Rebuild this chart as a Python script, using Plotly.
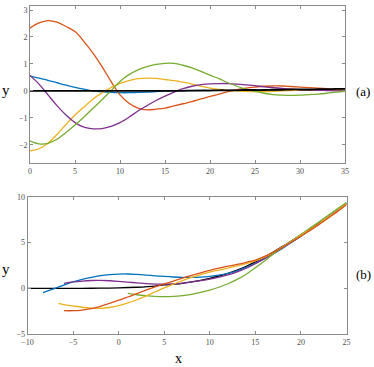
import plotly.graph_objects as go

W, H = 374, 367

# panel (a): damped oscillations
ta = [0, 1, 2, 3, 4, 5, 6, 7, 8, 9, 10, 11, 12, 13, 14, 15, 16, 17, 18, 19, 20,
      21, 22, 23, 24, 25, 26, 27, 28, 29, 30, 31, 32, 33, 34, 35]
a_orange = [2.33, 2.52, 2.61, 2.55, 2.39, 2.2, 1.83, 1.4, 0.9, 0.35, -0.15, -0.46, -0.64, -0.71,
            -0.68, -0.64, -0.56, -0.48, -0.4, -0.3, -0.21, -0.12, -0.03, 0.04, 0.1, 0.14, 0.17,
            0.18, 0.18, 0.16, 0.14, 0.12, 0.1, 0.08, 0.06, 0.05]
a_green = [-1.86, -1.97, -1.95, -1.8, -1.55, -1.27, -0.97, -0.65, -0.33, 0.0, 0.35, 0.6, 0.78,
           0.9, 0.98, 1.02, 1.02, 0.95, 0.85, 0.72, 0.58, 0.45, 0.3, 0.17, 0.06, -0.02, -0.09,
           -0.14, -0.16, -0.17, -0.16, -0.14, -0.12, -0.09, -0.05, -0.02]
a_yellow = [-2.23, -2.15, -1.95, -1.62, -1.25, -0.9, -0.6, -0.3, -0.08, 0.12, 0.28, 0.38, 0.45,
            0.47, 0.46, 0.42, 0.38, 0.32, 0.25, 0.17, 0.1, 0.05, 0.02, 0.0, -0.02, -0.03, -0.03,
            -0.02, 0.0, 0.01, 0.02, 0.02, 0.02, 0.02, 0.02, 0.02]
a_purple = [0.57, 0.25, -0.15, -0.55, -0.9, -1.18, -1.35, -1.41, -1.4, -1.32, -1.18, -0.98, -0.75,
            -0.55, -0.36, -0.2, -0.05, 0.08, 0.17, 0.23, 0.26, 0.27, 0.27, 0.25, 0.22, 0.19, 0.15,
            0.12, 0.09, 0.06, 0.04, 0.03, 0.02, 0.01, 0.0, 0.0]
a_blue = [0.55, 0.47, 0.39, 0.3, 0.21, 0.13, 0.06, 0.0, -0.04, -0.06, -0.07, -0.07, -0.06, -0.05,
          -0.03, -0.01, 0.0, 0.01, 0.01, 0.02, 0.02, 0.02, 0.02, 0.03, 0.03, 0.03, 0.03, 0.03,
          0.03, 0.03, 0.03, 0.03, 0.03, 0.03, 0.03, 0.03]
a_black = [0.0, 0.0, 0.0, 0.0, 0.0, 0.0, 0.0, 0.0, 0.0, 0.0, 0.0, 0.0, 0.0, 0.0, 0.0, 0.0, 0.0,
           0.0, 0.01, 0.01, 0.01, 0.02, 0.02, 0.02, 0.03, 0.03, 0.03, 0.04, 0.04, 0.05, 0.05,
           0.05, 0.06, 0.06, 0.07, 0.07]

# panel (b)
xb_black = [-10, -8, -6, -4, -2, 0, 2, 4, 5, 6, 7, 8, 9, 10, 11, 12, 13, 14, 15, 16, 17, 18,
            19, 20, 21, 22, 23, 24, 25]
b_black = [0.0, 0.0, 0.0, 0.0, 0.02, 0.05, 0.12, 0.25, 0.37, 0.45, 0.55, 0.7, 0.88, 1.1, 1.35,
           1.65, 2.0, 2.42, 2.9, 3.42, 4.0, 4.6, 5.2, 5.85, 6.5, 7.15, 7.8, 8.5, 9.3]
xb_blue = [-8.3, -7, -6, -5, -4, -3, -2, -1, 0, 1, 2, 3, 4, 5, 6, 7, 8, 9, 10, 11, 12, 13, 14,
           15, 16, 17, 18, 19, 20, 21, 22, 23, 24, 25]
b_blue = [-0.47, 0.0, 0.35, 0.7, 0.98, 1.2, 1.38, 1.5, 1.56, 1.57, 1.52, 1.45, 1.37, 1.3, 1.24,
          1.2, 1.2, 1.23, 1.32, 1.45, 1.65, 1.92, 2.3, 2.75, 3.25, 3.8, 4.4, 5.05, 5.7, 6.4, 7.1,
          7.8, 8.55, 9.35]
xb_purple = [-6, -5, -4, -3, -2, -1, 0, 1, 2, 3, 4, 5, 6, 7, 8, 9, 10, 11, 12, 13, 14, 15, 16,
             17, 18, 19, 20, 21, 22, 23, 24, 25]
b_purple = [0.55, 0.7, 0.8, 0.86, 0.87, 0.83, 0.76, 0.68, 0.6, 0.52, 0.47, 0.45, 0.48, 0.56, 0.7,
            0.85, 1.02, 1.22, 1.47, 1.8, 2.2, 2.7, 3.25, 3.85, 4.45, 5.1, 5.75, 6.42, 7.1, 7.8,
            8.5, 9.3]
xb_green = [1, 2, 3, 4, 5, 6, 7, 8, 9, 10, 11, 12, 13, 14, 15, 16, 17, 18, 19, 20, 21, 22, 23,
            24, 25]
b_green = [-0.55, -0.7, -0.8, -0.87, -0.9, -0.88, -0.8, -0.65, -0.45, -0.2, 0.12, 0.5, 0.98,
           1.55, 2.25, 3.0, 3.8, 4.5, 5.2, 5.9, 6.6, 7.3, 8.0, 8.7, 9.4]
xb_yellow = [-6.6, -6, -5, -4, -3, -2, -1, 0, 1, 2, 3, 4, 5, 6, 7, 8, 9, 10, 11, 12, 13, 14, 15,
             16, 17, 18, 19, 20, 21, 22, 23, 24, 25]
b_yellow = [-1.65, -1.78, -1.93, -2.07, -2.17, -2.2, -2.1, -1.9, -1.6, -1.25, -0.85, -0.4, 0.05,
            0.45, 0.85, 1.2, 1.5, 1.78, 2.0, 2.22, 2.45, 2.7, 3.0, 3.4, 3.95, 4.55, 5.15, 5.8,
            6.45, 7.1, 7.8, 8.5, 9.25]
xb_orange = [-6, -5, -4, -3, -2, -1, 0, 1, 2, 3, 4, 5, 6, 7, 8, 9, 10, 11, 12, 13, 14, 15, 16,
             17, 18, 19, 20, 21, 22, 23, 24, 25]
b_orange = [-2.45, -2.45, -2.38, -2.22, -1.98, -1.65, -1.3, -0.95, -0.57, -0.2, 0.15, 0.48, 0.8,
            1.12, 1.42, 1.7, 1.96, 2.2, 2.42, 2.62, 2.85, 3.1, 3.5, 3.95, 4.5, 5.1, 5.7, 6.35, 7.0,
            7.7, 8.4, 9.15]

BLUE, ORANGE, YELLOW = "#0072BD", "#D95319", "#EDB120"
PURPLE, GREEN = "#7E2F8E", "#77AC30"

fig = go.Figure()


def add(x, y, color, ax, width=1.3):
    fig.add_trace(go.Scatter(x=x, y=y, mode="lines", line=dict(color=color, width=width, shape="spline"),
                             xaxis="x" + ax, yaxis="y" + ax, showlegend=False, hoverinfo="skip"))


add(ta, a_blue, BLUE, "")
add(ta, a_orange, ORANGE, "")
add(ta, a_yellow, YELLOW, "")
add(ta, a_purple, PURPLE, "")
add(ta, a_green, GREEN, "")
add(ta, a_black, "black", "", 1.8)

add(xb_black, b_black, "black", "2", 1.3)
add(xb_blue, b_blue, BLUE, "2")
add(xb_purple, b_purple, PURPLE, "2")
add(xb_green, b_green, GREEN, "2")
add(xb_yellow, b_yellow, YELLOW, "2")
add(xb_orange, b_orange, ORANGE, "2")

axis_style = dict(showline=True, linecolor="#8a8a8a", linewidth=1, mirror="ticks", ticks="inside",
                  ticklen=3, tickcolor="#8a8a8a", showgrid=False, zeroline=False,
                  tickfont=dict(family="Liberation Serif", size=8, color="#4d4d4d"), automargin=False)

fig.update_layout(
    width=W, height=H,
    margin=dict(l=0, r=0, t=0, b=0),
    paper_bgcolor="white", plot_bgcolor="white",
    xaxis=dict(domain=[30 / W, 345 / W], range=[0, 35], tickvals=[0, 5, 10, 15, 20, 25, 30, 35],
               anchor="y", **axis_style),
    yaxis=dict(domain=[1 - 163 / H, 1 - 6 / H], range=[-2.68, 3.15], tickvals=[-2, -1, 0, 1, 2, 3],
               anchor="x", **axis_style),
    xaxis2=dict(domain=[27.5 / W, 346.5 / W], range=[-10, 25],
                tickvals=[-10, -5, 0, 5, 10, 15, 20, 25], anchor="y2", **axis_style),
    yaxis2=dict(domain=[1 - 334 / H, 1 - 197 / H], range=[-5, 10], tickvals=[-5, 0, 5, 10],
                anchor="x2", **axis_style),
)

for txt, x, y, size in [("y", 6, 90, 15), ("(a)", 363, 91, 13), ("y", 6, 269, 15),
                        ("(b)", 363, 274, 13), ("x", 178.5, 358, 14)]:
    fig.add_annotation(text=txt, x=x / W, y=1 - y / H, xref="paper", yref="paper",
                       showarrow=False, xanchor="center", yanchor="middle",
                       font=dict(family="Liberation Serif", size=size, color="black"))

# drop the default page margin so the figure sits at the window's corner
fig.write_html("out.html", config={"displayModeBar": False},
               post_script="document.body.style.margin='0';")
